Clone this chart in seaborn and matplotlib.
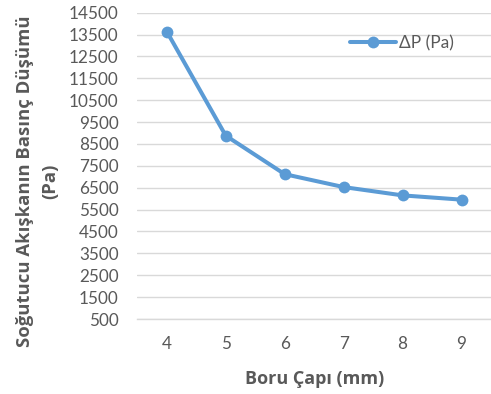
import matplotlib
matplotlib.use("Agg")
import matplotlib.pyplot as plt
import seaborn as sns
import pandas as pd
import numpy as np

categories = ["4", "5", "6", "7", "8", "9"]
dp_values = [13640, 8880, 7120, 6530, 6150, 5955]
yticks = list(range(500, 14501, 1000))
series_name = "ΔP (Pa)"

sns.set_style("white")
plt.rcParams['font.family'] = ['Lato', 'DejaVu Sans']

fig = plt.figure(figsize=(4.91, 3.94), dpi=100)
ax = fig.add_axes([137.3/491, 1-319/394, 1-137.3/491, (319-12.7)/394])

df = pd.DataFrame({"pos": np.arange(len(categories)), "dp": dp_values})
sns.lineplot(data=df, x="pos", y="dp", ax=ax, color="#5B9BD5", linewidth=2.9,
             marker="o", markersize=8.5, markeredgewidth=0, label=series_name)

ax.set_xlim(-0.5, len(categories) - 0.5)
ax.set_ylim(500, 14500)
ax.set_yticks(yticks)
ax.set_yticklabels([str(t) for t in yticks])
ax.set_xticks(np.arange(len(categories)))
ax.set_xticklabels(categories)
ax.set_xticks(np.arange(-0.5, len(categories), 1.0), minor=True)

gray = "#595959"
ax.grid(axis="y", color="#D9D9D9", linewidth=1.0)
ax.set_axisbelow(True)
for s in ["left", "right", "top"]:
    ax.spines[s].set_visible(False)
ax.spines["bottom"].set_color("#D9D9D9")
ax.spines["bottom"].set_linewidth(1.0)

ax.tick_params(axis="y", which="both", length=0, labelsize=12.3, labelcolor=gray, pad=13.5)
ax.tick_params(axis="x", which="major", length=0, labelsize=12.3, labelcolor=gray, pad=12)
ax.tick_params(axis="x", which="minor", length=5, color="#D9D9D9", width=1.0, direction="out")

lab_font = ['Open Sans', 'DejaVu Sans']
ax.set_xlabel("Boru Çapı (mm)", fontsize=13, fontweight="bold", color=gray, family=lab_font)
ax.set_ylabel("Soğutucu Akışkanın Basınç Düşümü\n(Pa)", fontsize=13.3,
              fontweight="bold", color=gray, linespacing=1.45, family=lab_font)
ax.xaxis.set_label_coords(0.5, -0.165)
ax.yaxis.set_label_coords(-0.222, 0.45)

leg = ax.legend(loc="center left", bbox_to_anchor=(350/491, 1-43/394),
                bbox_transform=fig.transFigure, frameon=False,
                fontsize=12.5, handlelength=2.65, handletextpad=0.2,
                borderpad=0, borderaxespad=0)
for t in leg.get_texts():
    t.set_color(gray)

fig.savefig("out.png", dpi=100)
